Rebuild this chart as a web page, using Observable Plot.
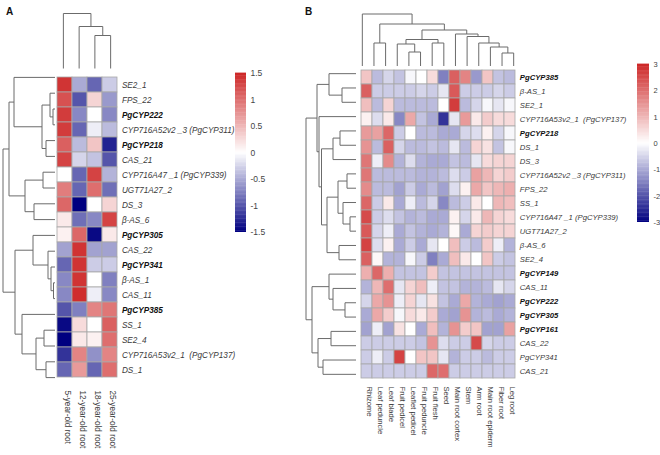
<!DOCTYPE html>
<html><head><meta charset="utf-8">
<script src="https://cdn.jsdelivr.net/npm/d3@7"></script>
<script src="https://cdn.jsdelivr.net/npm/@observablehq/plot@0.6"></script>
<style>
body{margin:0;background:#fff;font-family:"Liberation Sans",Arial,sans-serif;}
#fig{position:relative;width:660px;height:455px;overflow:hidden;background:#fff;}
#fig svg{position:absolute;left:0;top:0;}
.panel{position:absolute;font-weight:bold;font-size:10px;color:#111;}
</style></head><body><div id="fig"></div>
<script>
// ---------- Panel A data ----------
const rowsA = ["SE2_1","FPS_22","PgCYP222","CYP716A52v2 _3 (PgCYP311)","PgCYP218","CAS_21","CYP716A47 _1 (PgCYP339)","UGT71A27_2","DS_3","β-AS_6","PgCYP305","CAS_22","PgCYP341","β-AS_1","CAS_11","PgCYP385","SS_1","SE2_4","CYP716A53v2_1  (PgCYP137)","DS_1"];
const boldA = ["PgCYP222","PgCYP218","PgCYP305","PgCYP341","PgCYP385"];
const colsA = ["5-year-old root","12-year-old root","18-year-old root","25-year-old root"];
const valuesA = [
  [1.4,-0.5,-0.9,-0.3],
  [1.2,-1.0,0.3,-0.6],
  [1.35,-0.7,0,-0.7],
  [1.35,-0.9,-0.1,-0.4],
  [1.1,-0.4,0.4,-1.3],
  [1.3,-0.25,-0.35,-1.0],
  [0,-0.9,1.3,-0.45],
  [0.9,-0.9,1.0,-0.85],
  [1.05,-1.5,0,0.3],
  [0.15,-0.85,-0.7,1.3],
  [0.1,1.05,-1.45,0.15],
  [-0.55,1.4,-0.55,-0.55],
  [-0.9,1.4,-0.3,-0.3],
  [-0.7,1.4,0,-0.75],
  [-0.7,1.45,-0.1,-0.7],
  [-1.0,-0.75,0.85,0.95],
  [-1.45,0.25,0,1.1],
  [-1.5,0.15,0.1,1.0],
  [-1.2,0.85,-0.65,0.85],
  [-0.9,0.7,-0.9,1.0]
];
// dendrograms: [height, left, right], leaves = index
const rowTreeA = [52,
  [46, [41, 0, [13, [5, 1, [2, 2, 3]], [9, 4, 5]]], [30, [12, 6, 7], [21, 8, 9]]],
  [40, [22, 10, [7, 11, [4, 12, [1.5, 13, 14]]]], [33, 15, [19, [11, 16, 17], [9, 18, 19]]]]];
const colTreeA = [55, 0, [42, 1, [33, 2, 3]]];
const legendTicksA = [-1.5,-1,-0.5,0,0.5,1,1.5];

// ---------- Panel B data ----------
const rowsB = ["PgCYP385","β-AS_1","SE2_1","CYP716A53v2_1  (PgCYP137)","PgCYP218","DS_1","DS_3","CYP716A52v2 _3 (PgCYP311)","FPS_22","SS_1","CYP716A47 _1 (PgCYP339)","UGT71A27_2","β-AS_6","SE2_4","PgCYP149","CAS_11","PgCYP222","PgCYP305","PgCYP161","CAS_22","PgCYP341","CAS_21"];
const boldB = ["PgCYP385","PgCYP218","PgCYP149","PgCYP222","PgCYP305","PgCYP161"];
const colsB = ["Rhizome","Leaf peduncle","Leaf blade","Fruit pedicel","Leaflet pedicel","Fruit peduncle","Fruit flesh","Seed","Main root cortex","Stem","Arm root","Main root epiderm","Fiber root","Leg root"];
const valuesB = [
  [0.8,-0.8,-0.5,-0.7,-0.1,0,0.5,-1.5,2.2,1.7,-1.2,0.8,-0.7,-0.8],
  [2.2,-0.6,-0.6,-0.6,-0.6,-0.5,-0.6,-0.3,2.3,-0.6,-0.6,-0.6,-0.5,-0.6],
  [0.9,-0.8,0.6,-0.8,-0.8,-0.8,-0.8,0,2.7,-0.8,-0.5,-0.1,-0.3,-0.1],
  [0.2,-0.4,0.3,-1.4,1.2,-0.7,-1.0,-2.4,-0.3,1.4,0.3,0.7,0.5,0.5],
  [1.4,1.3,2.1,-0.6,0,-0.8,-0.8,-1.0,-1.0,-0.5,-0.4,0.2,-0.5,-0.1],
  [1.5,-0.8,2.2,-0.5,-0.8,-0.8,-0.7,-0.8,-0.3,-0.8,0.6,0.4,-0.7,-0.1],
  [1.9,-0.2,1.6,-0.9,-0.4,-0.9,-1.0,-1.0,-0.7,-0.8,-0.3,0.5,0.6,0.6],
  [1.9,-0.8,-0.8,-0.8,-0.8,-0.9,-0.9,-0.8,-0.4,-0.6,1.3,1.0,0.6,0.7],
  [1.6,-0.8,-0.8,-1.1,-0.6,-1.0,-0.8,-1.1,-0.4,0.2,1.2,0.8,1.0,1.1],
  [2.1,-0.6,0.3,-1.0,-0.2,-0.8,-0.5,-1.4,-0.8,-0.6,0.3,0,1.0,0.9],
  [2.5,-0.6,-0.4,-0.7,-0.9,-0.8,-1.0,-1.0,0.2,-0.5,0.3,1.0,0.6,0.5],
  [2.3,-0.5,-0.2,-1.0,-0.7,-0.9,-1.0,-0.9,0.1,-1.0,0.6,0.7,0.6,0.6],
  [2.6,-0.4,0.2,-1.0,-0.6,-1.0,-0.3,0,0.9,-0.6,-0.8,0.7,-0.2,-0.9],
  [2.2,0.1,-0.9,-0.9,-0.1,-0.6,-1.5,-1.0,0.9,0.3,0,0.8,-0.6,-0.7],
  [1.1,2.1,1.1,-0.7,-0.7,-0.7,0.7,-0.7,-0.7,-0.7,-0.7,-0.7,-0.7,-0.7],
  [-0.9,1.0,2.0,-0.3,0.6,0.9,-0.2,-0.7,-0.7,-0.9,-0.9,-0.8,-0.3,-0.5],
  [-0.5,1.2,1.5,-0.2,0.6,-0.3,0.4,-0.7,-1.0,1.2,-0.9,-1.0,-1.1,-1.0],
  [-1.0,1.2,0.7,-0.1,0.5,0.3,0.7,-1.0,-1.1,1.5,-0.9,-0.8,-1.0,-0.9],
  [-1.1,-0.2,-1.1,0.4,0,-1.0,0.9,-0.9,1.5,0.7,0.8,-1.1,-1.1,1.3],
  [-0.6,-0.6,-0.6,-0.6,-0.6,-0.7,1.5,-0.4,-0.6,-0.6,2.5,-0.5,-0.6,-0.6],
  [-0.6,-0.2,-0.6,2.6,0,0.8,0.8,-0.3,-0.9,-0.6,-0.6,-0.8,-0.6,-0.6],
  [-0.6,-0.6,-0.6,-0.6,-0.6,-0.6,2.1,2.0,-0.6,-0.6,-0.6,-0.6,-0.6,-0.6]
];
const rowTreeB = [50,
  [39, [27, 0, [14, 1, 2]], [37, 3, [34.5, [23, [16, 4, 5], 6], [29, [18, [9, 7, 8], [13, 9, [6, 10, 11]]], [17, 12, 13]]]]],
  [44, [27, 14, [23, 15, [11, 16, 17]]], [38, [25, 18, 19], [33, 20, 21]]]];
const colTreeB = [52, 0, [42, [23, 1, 2], [36, [26.5, [22, 3, [14, 4, 5]], [23, 6, 7]], [32, 8, [29.5, 9, [23, 10, [19, 11, [13, 12, 13]]]]]]]];
const legendTicksB = [-3,-2,-1,0,1,2,3];

// ---------- drawing ----------
const W = 660, H = 455;
const FONT = "'Liberation Sans', Arial, sans-serif";
const palette = ["#000080", "#ffffff", "#CD2626"];
const fig = document.getElementById("fig");
const baseStyle = {background: "transparent", fontFamily: FONT, overflow: "visible"};

function frame(x0, x1, y0, y1) {
  return {width: W, height: H, marginLeft: x0, marginRight: W - x1, marginTop: y0, marginBottom: H - y1};
}

function heatmap({rows, cols, values, bold, m, x0, x1, y0, y1, fontSize, colFont}) {
  const cells = [];
  rows.forEach((r, i) => cols.forEach((c, j) => cells.push({row: r, col: c, v: values[i][j]})));
  const cw = (x1 - x0) / cols.length;
  const boldSet = new Set(bold);
  const last = cols[cols.length - 1];
  fig.appendChild(Plot.plot({
    ...frame(x0, x1, y0, y1),
    style: baseStyle,
    x: {type: "band", domain: cols, padding: 0, axis: null},
    y: {type: "band", domain: rows, padding: 0, axis: null},
    color: {type: "linear", domain: [-m, 0, m], range: palette, clamp: true},
    marks: [
      Plot.cell(cells, {x: "col", y: "row", fill: "v", stroke: "#a8a8a8", strokeWidth: 0.8}),
      Plot.text(rows.filter(r => !boldSet.has(r)), {x: () => last, y: d => d, text: d => d, dx: cw / 2 + 4, textAnchor: "start", fontStyle: "italic", fill: "#3a3a3a", fontSize}),
      Plot.text(rows.filter(r => boldSet.has(r)), {x: () => last, y: d => d, text: d => d, dx: cw / 2 + 4, textAnchor: "start", fontStyle: "italic", fontWeight: "bold", fill: "#111", fontSize}),
      Plot.text(cols, {x: d => d, text: d => d, frameAnchor: "bottom", rotate: 90, textAnchor: "start", dy: 5, fill: "#3a3a3a", fontSize: colFont})
    ]
  }));
}

function dendroSegments(tree) {
  const segs = [];
  (function walk(n) {
    if (typeof n === "number") return {pos: n, h: 0};
    const [h, a, b] = n;
    const A = walk(a), B = walk(b);
    segs.push({p1: A.pos, h1: h, p2: B.pos, h2: h});
    segs.push({p1: A.pos, h1: A.h, p2: A.pos, h2: h});
    segs.push({p1: B.pos, h1: B.h, p2: B.pos, h2: h});
    return {pos: (A.pos + B.pos) / 2, h};
  })(tree);
  return segs;
}

function rowDendro(tree, n, x0, x1, y0, y1) {
  fig.appendChild(Plot.plot({
    ...frame(x0, x1, y0, y1),
    style: baseStyle,
    x: {type: "linear", domain: [x1 - x0, 0], axis: null},
    y: {type: "linear", domain: [n - 0.5, -0.5], axis: null},
    marks: [Plot.link(dendroSegments(tree), {x1: "h1", y1: "p1", x2: "h2", y2: "p2", stroke: "#6b6b6b", strokeWidth: 1})]
  }));
}

function colDendro(tree, n, x0, x1, y0, y1) {
  fig.appendChild(Plot.plot({
    ...frame(x0, x1, y0, y1),
    style: baseStyle,
    x: {type: "linear", domain: [-0.5, n - 0.5], axis: null},
    y: {type: "linear", domain: [0, y1 - y0], axis: null},
    marks: [Plot.link(dendroSegments(tree), {x1: "p1", y1: "h1", x2: "p2", y2: "h2", stroke: "#6b6b6b", strokeWidth: 1})]
  }));
}

function colorbar(m, ticks, x0, x1, y0, y1, fontSize) {
  const steps = d3.range(-m, m, m / 60).map(v => ({a: v, b: v + m / 60}));
  fig.appendChild(Plot.plot({
    ...frame(x0, x1, y0, y1),
    style: baseStyle,
    x: {type: "linear", domain: [0, 1], axis: null},
    y: {type: "linear", domain: [-m, m], axis: "right", ticks: ticks, tickSize: 0, tickPadding: 4, tickFormat: d => String(d), label: null},
    color: {type: "linear", domain: [-m, 0, m], range: palette, clamp: true},
    marks: [
      Plot.rect(steps, {x1: 0, x2: 1, y1: "a", y2: d => d.b + m / 200, fill: d => (d.a + d.b) / 2})
    ]
  }));
  const svg = fig.lastChild;
  svg.querySelectorAll("text").forEach(t => { t.setAttribute("font-size", fontSize); t.setAttribute("fill", "#444"); });
}

// Panel A
rowDendro(rowTreeA, rowsA.length, 2, 54.5, 69, 385);
colDendro(colTreeA, colsA.length, 55, 118, 13, 68);
heatmap({rows: rowsA, cols: colsA, values: valuesA, bold: boldA, m: 1.5, x0: 55, x1: 118, y0: 69, y1: 385, fontSize: 8.2, colFont: 8.2});
colorbar(1.5, legendTicksA, 235, 246, 73, 232, 8.5);

// Panel B
rowDendro(rowTreeB, rowsB.length, 305, 355.5, 66, 381);
colDendro(colTreeB, colsB.length, 356, 519, 14, 65.5);
heatmap({rows: rowsB, cols: colsB, values: valuesB, bold: boldB, m: 3, x0: 356, x1: 519, y0: 66, y1: 381, fontSize: 7.7, colFont: 7.6});
colorbar(3, legendTicksB, 637, 649, 64, 222, 7.5);

// Panel letters
for (const [t, x, y] of [["A", 6, 6], ["B", 305, 6]]) {
  const d = document.createElement("div");
  d.className = "panel"; d.textContent = t; d.style.left = x + "px"; d.style.top = y + "px";
  fig.appendChild(d);
}
</script></body></html>
